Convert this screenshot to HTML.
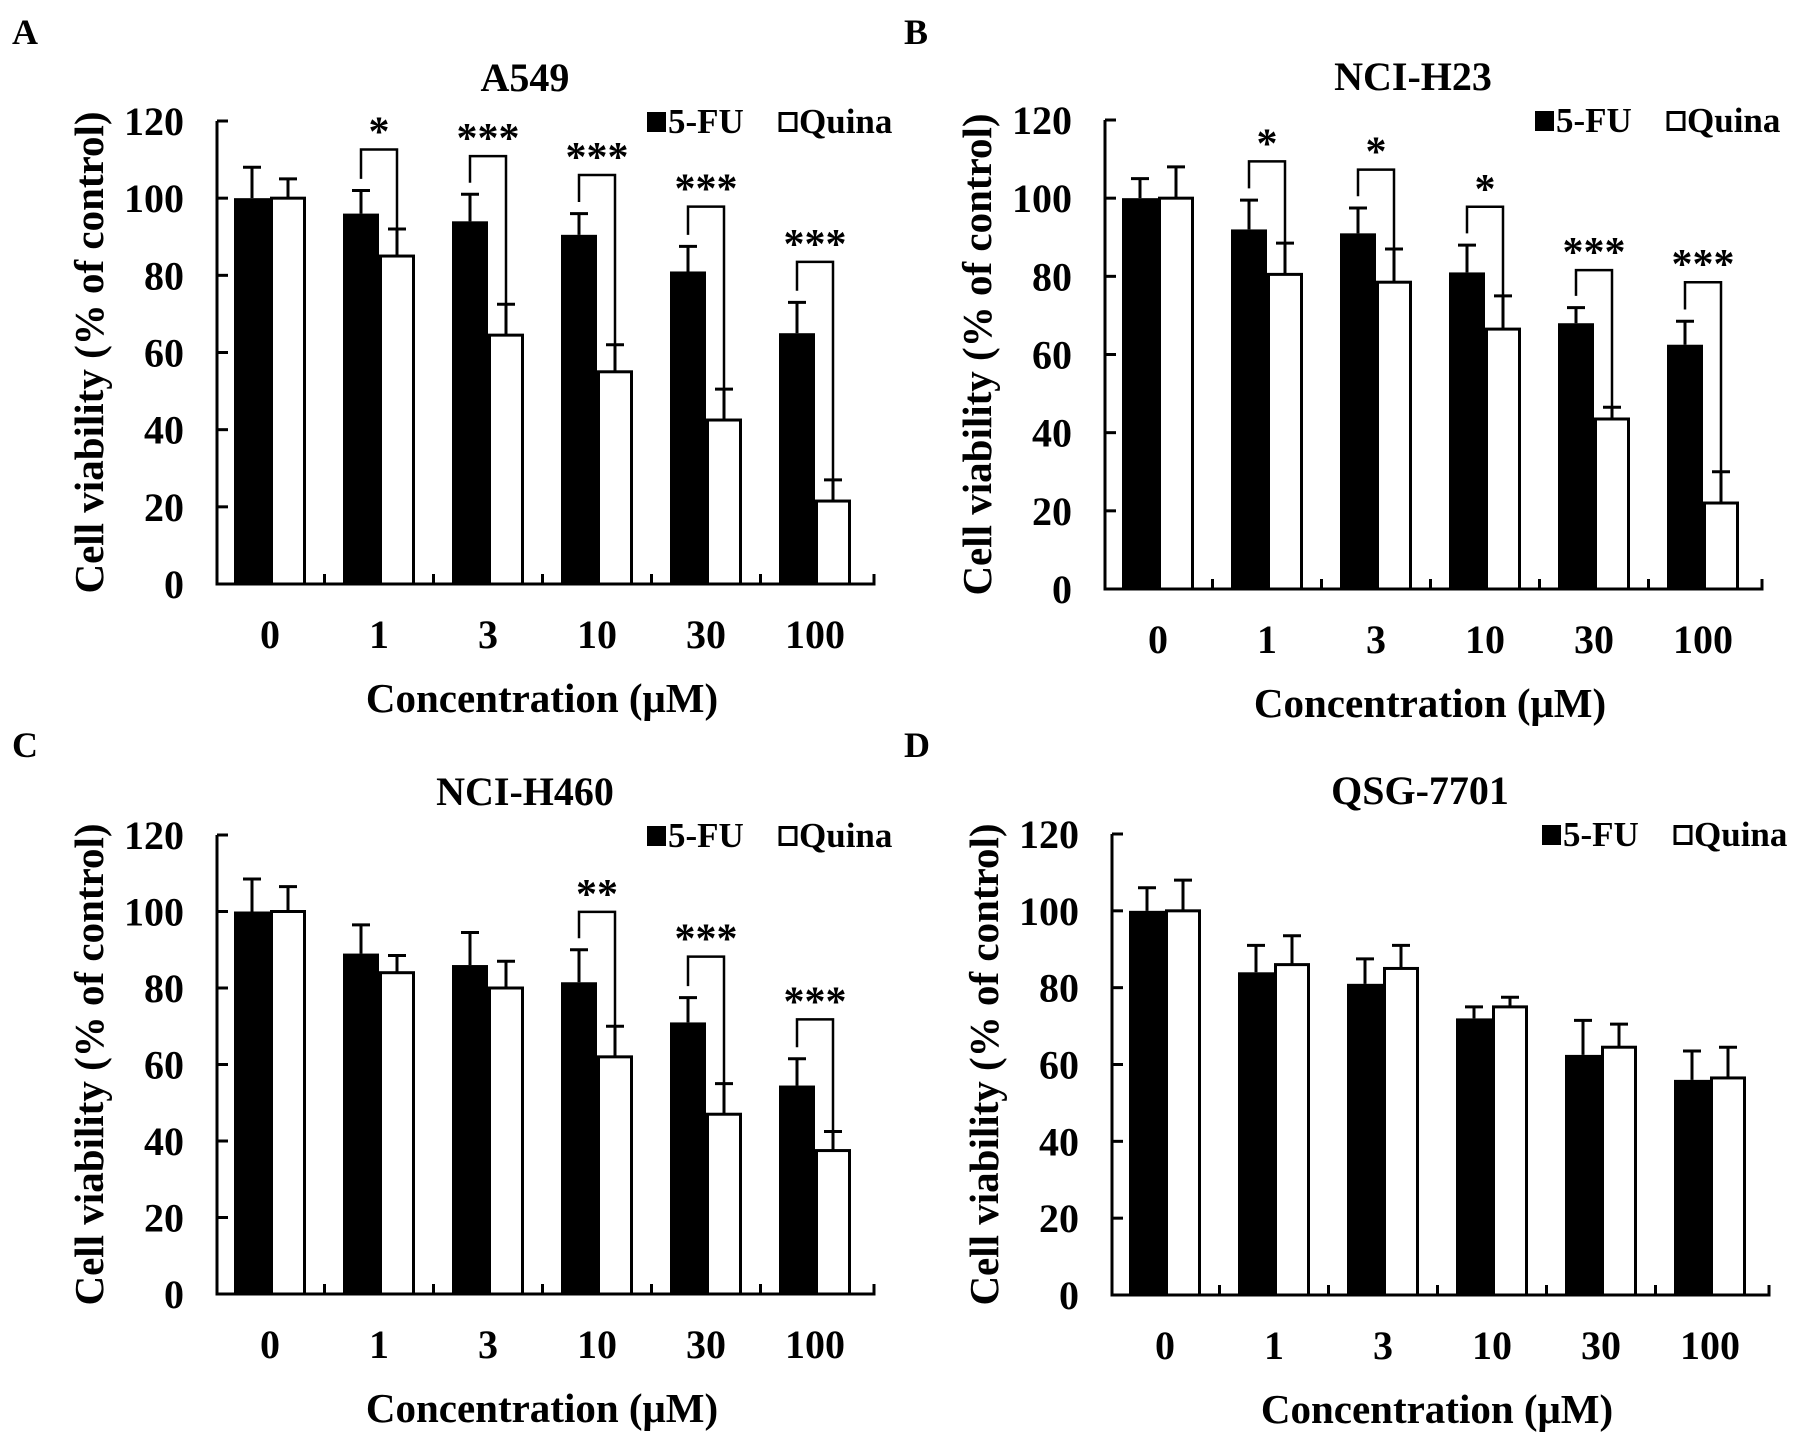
<!DOCTYPE html>
<html><head><meta charset="utf-8"><style>
html,body{margin:0;padding:0;background:#fff}
svg{display:block}
text{font-family:"Liberation Serif",serif;font-weight:bold;fill:#000}
</style></head><body>
<svg id="fig" width="1795" height="1446" viewBox="0 0 1795 1446" xmlns="http://www.w3.org/2000/svg"></svg>
<script>
const categories = ["0","1","3","10","30","100"];
const yTicks = [0,20,40,60,80,100,120];
const a549Fu = [100,96,94,90.5,81,65];
const a549FuErr = [8,6,7,5.5,6.5,8];
const a549Qu = [100,85,64.5,55,42.5,21.5];
const a549QuErr = [5,7,8,7,8,5.5];
const a549Sig = ["","*","***","***","***","***"];
const a549SigTop = [0,112.6,110.9,106,97.8,83.5];
const h23Fu = [100,92,91,81,68,62.5];
const h23FuErr = [5,7.5,6.5,7,4,6];
const h23Qu = [100,80.5,78.5,66.5,43.5,22];
const h23QuErr = [8,8,8.5,8.5,3,8];
const h23Sig = ["","*","*","*","***","***"];
const h23SigTop = [0,109.4,107.3,97.8,81.6,78.5];
const h460Fu = [100,89,86,81.5,71,54.5];
const h460FuErr = [8.5,7.5,8.5,8.5,6.5,7];
const h460Qu = [100,84,80,62,47,37.5];
const h460QuErr = [6.5,4.5,7,8,8,5];
const h460Sig = ["","","","**","***","***"];
const h460SigTop = [0,0,0,99.9,88.2,71.8];
const qsgFu = [100,84,81,72,62.5,56];
const qsgFuErr = [6,7,6.5,3,9,7.5];
const qsgQu = [100,86,85,75,64.5,56.5];
const qsgQuErr = [8,7.5,6,2.5,6,8];
const qsgSig = ["","","","","",""];
const qsgSigTop = [0,0,0,0,0,0];

const NS="http://www.w3.org/2000/svg";
const svg=document.getElementById('fig');
function mk(tag,attrs,parent,txt){const e=document.createElementNS(NS,tag);for(const k in attrs)e.setAttribute(k,attrs[k]);if(txt!==undefined)e.textContent=txt;(parent||svg).appendChild(e);return e;}

const panels=[
 {key:"a",letter:"A",title:"A549",x0:217,x1:874,y0:584,yTop:121,lx:12,ly:44,fu:a549Fu,fe:a549FuErr,qu:a549Qu,qe:a549QuErr,sig:a549Sig,st:a549SigTop},
 {key:"b",letter:"B",title:"NCI-H23",x0:1105,x1:1762,y0:589,yTop:120,lx:904,ly:44,fu:h23Fu,fe:h23FuErr,qu:h23Qu,qe:h23QuErr,sig:h23Sig,st:h23SigTop},
 {key:"c",letter:"C",title:"NCI-H460",x0:217,x1:874,y0:1294,yTop:835,lx:12,ly:757,fu:h460Fu,fe:h460FuErr,qu:h460Qu,qe:h460QuErr,sig:h460Sig,st:h460SigTop},
 {key:"d",letter:"D",title:"QSG-7701",x0:1112,x1:1769,y0:1295,yTop:834,lx:904,ly:757,fu:qsgFu,fe:qsgFuErr,qu:qsgQu,qe:qsgQuErr,sig:qsgSig,st:qsgSigTop}
];

panels.forEach(p=>{
  const g=mk('g',{});
  
  
  const y=v=>p.y0-(v/120)*(p.y0-p.yTop);
  const step=109;
  const xc=i=>p.x0+53+i*step;
  const bw=36;
  let t=mk('text',{x:p.lx,y:p.ly,'font-size':36},g,p.letter);
  
  
  t=mk('text',{x:p.x0+308,y:p.yTop-30,'font-size':40,'text-anchor':'middle'},g,p.title);
  
  
  categories.forEach((c,i)=>{
    const cx=xc(i);
    let e=mk('path',{d:`M${cx-bw/2} ${y(p.fu[i])} V${y(p.fu[i]+p.fe[i])} M${cx-bw/2-9} ${y(p.fu[i]+p.fe[i])} H${cx-bw/2+9}`,stroke:'#000','stroke-width':3,fill:'none'},g);
    
    
    e=mk('path',{d:`M${cx+bw/2} ${y(p.qu[i])} V${y(p.qu[i]+p.qe[i])} M${cx+bw/2-9} ${y(p.qu[i]+p.qe[i])} H${cx+bw/2+9}`,stroke:'#000','stroke-width':3,fill:'none'},g);
    
    
    let r=mk('rect',{x:cx-bw,y:y(p.fu[i]),width:bw,height:p.y0-y(p.fu[i]),fill:'#000'},g);
    
    
    r=mk('rect',{x:cx+1.5,y:y(p.qu[i]),width:bw-3,height:p.y0-y(p.qu[i]),fill:'#fff',stroke:'#000','stroke-width':3},g);
    
    
    if(p.sig[i]){
      const top=y(p.st[i]);
      const lb=y(p.fu[i]+p.fe[i]+3), rb=y(p.qu[i]+p.qe[i]);
      let b=mk('path',{d:`M${cx-bw/2} ${lb} V${top} H${cx+bw/2} V${rb}`,stroke:'#000','stroke-width':2.5,fill:'none'},g);
      
      
      let s=mk('text',{x:cx,y:top-4,'font-size':42,'text-anchor':'middle','font-weight':'normal'},g,p.sig[i]);
      
      
    }
    let lbl=mk('text',{x:cx,y:p.y0+64,'font-size':40,'text-anchor':'middle'},g,c);
    
    
  });
  let ax=mk('path',{d:`M${p.x0} ${p.yTop} V${p.y0} H${p.x1} V${p.y0-10}`,stroke:'#000','stroke-width':3,fill:'none'},g);
  
  
  for(let i=1;i<6;i++){const tx=p.x0+53+(i-0.5)*step;mk('line',{x1:tx,x2:tx,y1:p.y0,y2:p.y0-10,stroke:'#000','stroke-width':3},g);}
  yTicks.forEach(v=>{
    mk('line',{x1:p.x0,x2:p.x0+11,y1:y(v),y2:y(v),stroke:'#000','stroke-width':3},g);
    let tl=mk('text',{x:p.x0-33,y:y(v)+14,'font-size':40,'text-anchor':'end'},g,String(v));
    
    
  });
  let xt=mk('text',{x:p.x0+325,y:p.y0+128,'font-size':41,'text-anchor':'middle'},g,'Concentration (μM)');
  
  
  const ym=(p.y0+p.yTop)/2;
  let yt=mk('text',{x:p.x0-114,y:ym,'font-size':41,'text-anchor':'middle',transform:`rotate(-90 ${p.x0-114} ${ym})`},g,'Cell viability (% of control)');
  
  
  const lg=mk('g',{},g);
  
  
  mk('rect',{x:p.x0+430,y:p.yTop-9,width:19,height:20,fill:'#000'},lg);
  mk('text',{x:p.x0+451,y:p.yTop+12,'font-size':35},lg,'5-FU');
  mk('rect',{x:p.x0+563,y:p.yTop-7.5,width:16,height:17,fill:'#fff',stroke:'#000','stroke-width':3},lg);
  mk('text',{x:p.x0+582,y:p.yTop+12,'font-size':35},lg,'Quina');
});
</script>
</body></html>
